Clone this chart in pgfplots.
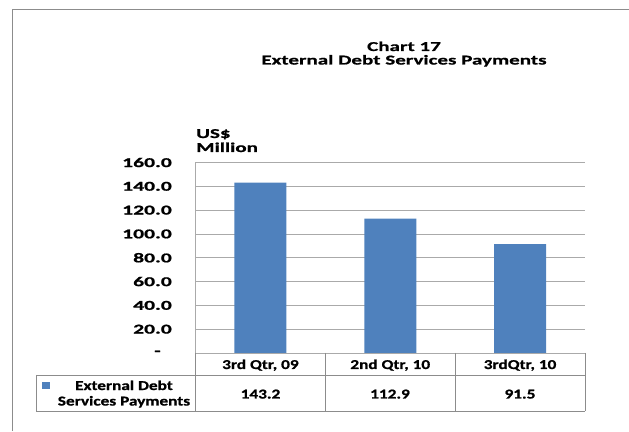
\documentclass[border=0pt]{standalone}
\usepackage{pgfplots}
\pgfplotsset{compat=1.18}
\usepackage{fontspec}
\setmainfont{Carlito}[FakeStretch=1.47,BoldFeatures={FakeBold=1}]
\newfontfamily\titlefont{Carlito}[FakeStretch=1.56,BoldFeatures={FakeBold=1}]
\newfontfamily\tickfont{Carlito}[FakeStretch=1.6,BoldFeatures={FakeBold=1}]
\newfontfamily\tabfont{Carlito}[FakeStretch=1.28,BoldFeatures={FakeBold=1}]
\definecolor{barblue}{RGB}{79,129,189}
\definecolor{gridgray}{RGB}{170,170,170}
\definecolor{tabgray}{RGB}{140,140,140}
\begin{document}
\begin{tikzpicture}[x=1pt,y=1pt,font=\fontsize{13.5}{14}\selectfont\bfseries]
\useasboundingbox (0,0) rectangle (629,431);
\draw[tabgray, line width=1pt] (12,0) -- (12,421.5) -- (629,421.5);
\begin{axis}[
 at={(195.5pt,78pt)}, anchor=south west,
 scale only axis, width=389.5pt, height=190.5pt,
 xmin=-0.5, xmax=2.5, ymin=0, ymax=160,
 axis x line=bottom, axis y line=left,
 axis line style={-, draw=gridgray, line width=0.8pt},
 ymajorgrids, grid style={gridgray, line width=0.8pt},
 ytick={0,20,...,160},
 yticklabels={{-\kern11pt},20.0,40.0,60.0,80.0,100.0,120.0,140.0,160.0},
 xtick={0,1,2},
 xticklabels={{3rd Qtr, 09},{2nd Qtr, 10},{3rdQtr, 10}},
 major tick length=0pt,
 yticklabel style={anchor=east, inner sep=0pt, xshift=-23.5pt, font=\tickfont\fontsize{13.5}{14}\selectfont\bfseries},
 xticklabel style={anchor=base, inner sep=0pt, yshift=-16pt, font=\tabfont\fontsize{13.5}{14}\selectfont\bfseries},
 ybar, bar width=52pt,
 clip=false,
]
\addplot[fill=barblue, draw=none] coordinates {(0,143.2) (1,112.9) (2,91.5)};
\end{axis}
% data table
\draw[tabgray, line width=0.8pt] (195.5,78) -- (195.5,20);
\draw[tabgray, line width=0.8pt] (36,56) -- (585,56);
\draw[tabgray, line width=0.8pt] (36,20) -- (585,20);
\draw[tabgray, line width=0.8pt] (36,56) -- (36,20);
\draw[tabgray, line width=0.8pt] (585,78) -- (585,20);
\draw[tabgray, line width=0.8pt] (325,78) -- (325,20);
\draw[tabgray, line width=0.8pt] (455,78) -- (455,20);
\fill[barblue] (42,42) rectangle (50,49);
\begin{scope}[font=\tabfont\fontsize{13.5}{14}\selectfont\bfseries]
\node[anchor=base] at (124,41) {External Debt};
\node[anchor=base] at (124,25.5) {Services Payments};
\node[anchor=base] at (260.5,32.5) {143.2};
\node[anchor=base] at (390,32.5) {112.9};
\node[anchor=base] at (520,32.5) {91.5};
\end{scope}
% titles
\begin{scope}[font=\titlefont\fontsize{13.5}{14}\selectfont\bfseries]
\node[anchor=base] at (404,380) {Chart 17};
\node[anchor=base] at (404,366.5) {External Debt Services Payments};
\node[anchor=base west, inner sep=0pt] at (196,293) {US\$};
\node[anchor=base west, inner sep=0pt] at (196,279) {Million};
\end{scope}
\end{tikzpicture}
\end{document}
